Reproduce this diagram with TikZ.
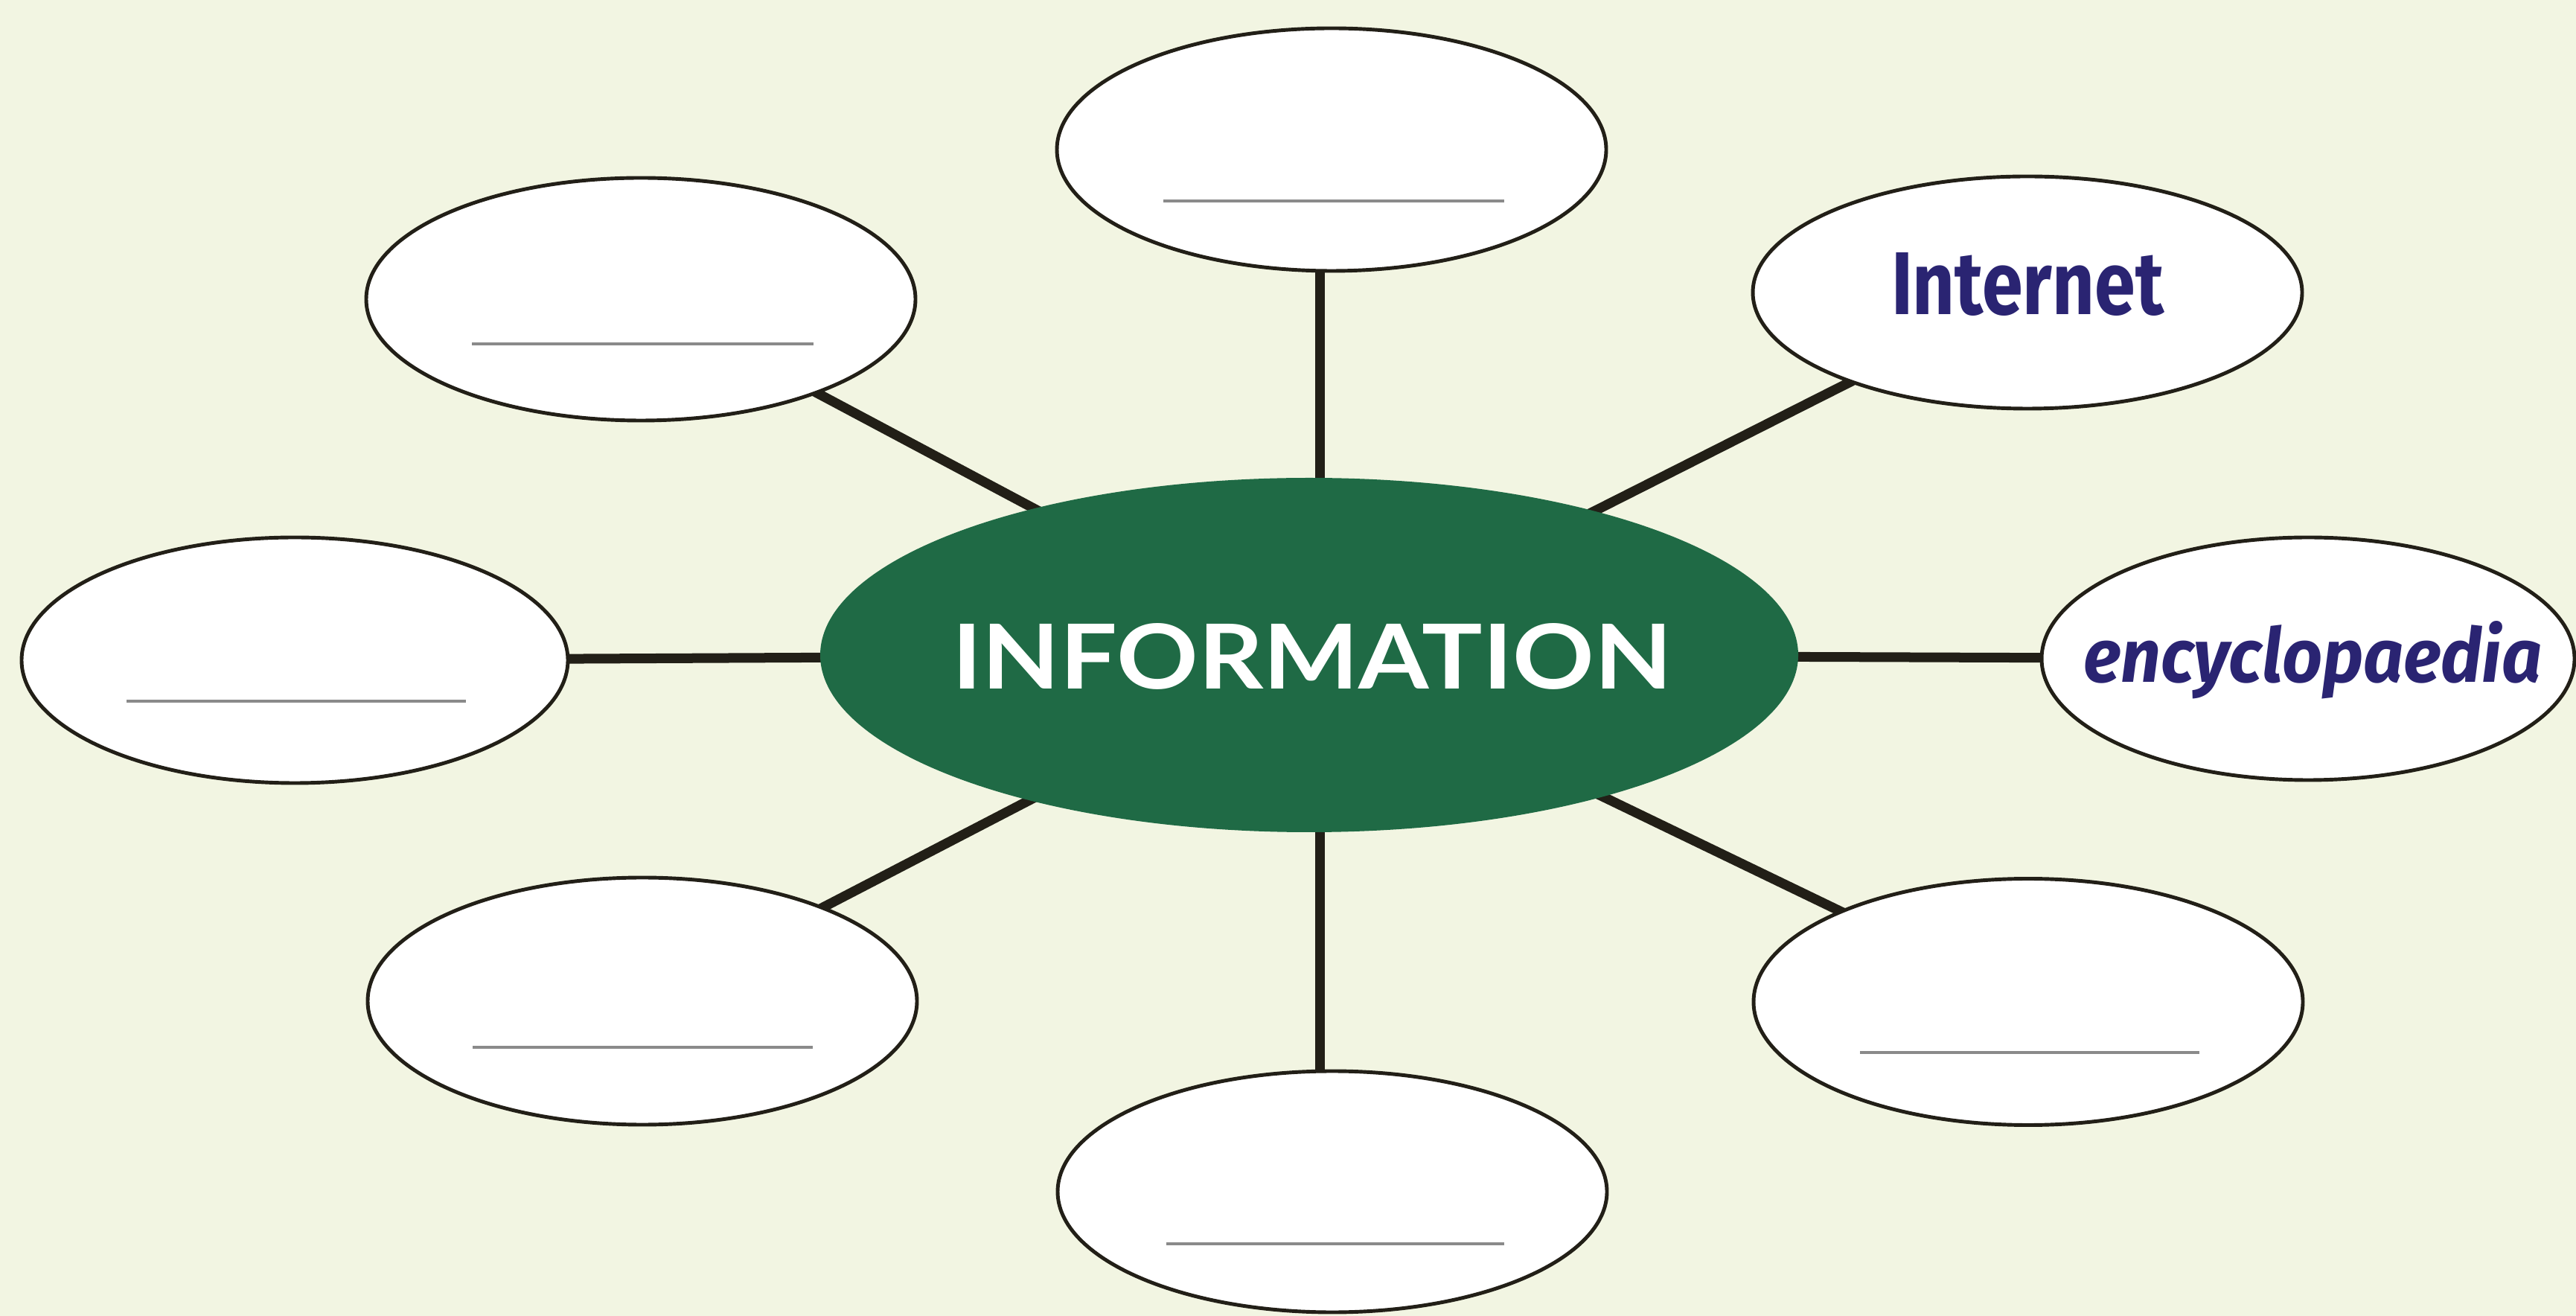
\documentclass[tikz,border=0pt]{standalone}
\usepackage{fontspec}
\setmainfont{Lato}
\newfontfamily\handfont{Fira Sans}
\usetikzlibrary{shapes.geometric}
\pgfdeclarelayer{bg}
\pgfsetlayers{bg,main}
\definecolor{paper}{HTML}{F2F5E2}
\definecolor{infogreen}{HTML}{1F6A45}
\definecolor{inkline}{HTML}{221F17}
\definecolor{navy}{HTML}{2A2472}
\definecolor{rulegray}{HTML}{8A8A8A}
\begin{document}
\begin{tikzpicture}[
  bubble/.style={ellipse, draw=inkline, line width=1.4pt, fill=white, minimum width=7.38cm, minimum height=3.26cm, inner sep=0pt},
  hub/.style={ellipse, fill=infogreen, minimum width=13.14cm, minimum height=4.76cm, inner sep=0pt},
  spoke/.style={draw=inkline, line width=3.7pt},
  blank/.style={draw=rulegray, line width=1.3pt},
  answer/.style={text=navy, anchor=base, inner sep=0pt},
]
\useasboundingbox (0,0) rectangle (34.61,-17.68);
\begin{pgfonlayer}{bg}
\fill[paper] (0,0) rectangle (34.61,-17.68);
\end{pgfonlayer}

% hub
\node[hub] (info) at (17.59,-8.80) {};
\node[anchor=base, text=white, inner sep=0pt] (infotext) at ([xshift=0.04cm,yshift=-0.46cm]info.center) {\resizebox{9.67cm}{0.88cm}{\bfseries INFORMATION}};

% bubbles
\node[bubble] (top) at (17.89,-2.01) {};
\node[bubble] (tl) at (8.61,-4.02) {};
\node[bubble, minimum height=3.12cm] (tr) at (27.24,-3.93) {};
\node[bubble, minimum width=7.34cm, minimum height=3.30cm] (l) at (3.96,-8.87) {};
\node[bubble, minimum width=7.16cm, minimum height=3.26cm] (r) at (31.01,-8.85) {};
\node[bubble, minimum height=3.32cm] (bl) at (8.63,-13.45) {};
\node[bubble, minimum height=3.31cm] (br) at (27.25,-13.46) {};
\node[bubble, minimum height=3.24cm] (b) at (17.90,-16.01) {};

% filled answers
\node[answer] (inet) at ([yshift=-0.30cm]tr.center) {\resizebox{3.66cm}{0.83cm}{\handfont\bfseries Internet}};
\node[answer] (enc) at ([xshift=0.06cm,yshift=-0.32cm]r.center) {\resizebox{6.16cm}{0.82cm}{\handfont\bfseries\itshape encyclopaedia}};

% answer lines
\draw[blank] ([xshift=-2.26cm,yshift=-0.69cm]top.center) -- ++(4.58,0);
\draw[blank] ([xshift=-2.27cm,yshift=-0.60cm]tl.center) -- ++(4.59,0);
\draw[blank] ([xshift=-2.26cm,yshift=-0.55cm]l.center) -- ++(4.56,0);
\draw[blank] ([xshift=-2.28cm,yshift=-0.62cm]bl.center) -- ++(4.57,0);
\draw[blank] ([xshift=-2.26cm,yshift=-0.68cm]br.center) -- ++(4.56,0);
\draw[blank] ([xshift=-2.23cm,yshift=-0.70cm]b.center) -- ++(4.54,0);

% spokes
\begin{pgfonlayer}{bg}
\draw[spoke] (info.center) -- (tl.center);
\draw[spoke] (info.center) -- (tr.center);
\draw[spoke] (info.center) -- (l.center);
\draw[spoke] (info.center) -- (r.center);
\draw[spoke] (info.center) -- (bl.center);
\draw[spoke] (info.center) -- (br.center);
\draw[spoke] ([xshift=-0.16cm]top.center) -- ([xshift=-0.16cm]top.center |- info.center);
\draw[spoke] ([xshift=-0.17cm]b.center) -- ([xshift=-0.17cm]b.center |- info.center);
\end{pgfonlayer}
\end{tikzpicture}
\end{document}
